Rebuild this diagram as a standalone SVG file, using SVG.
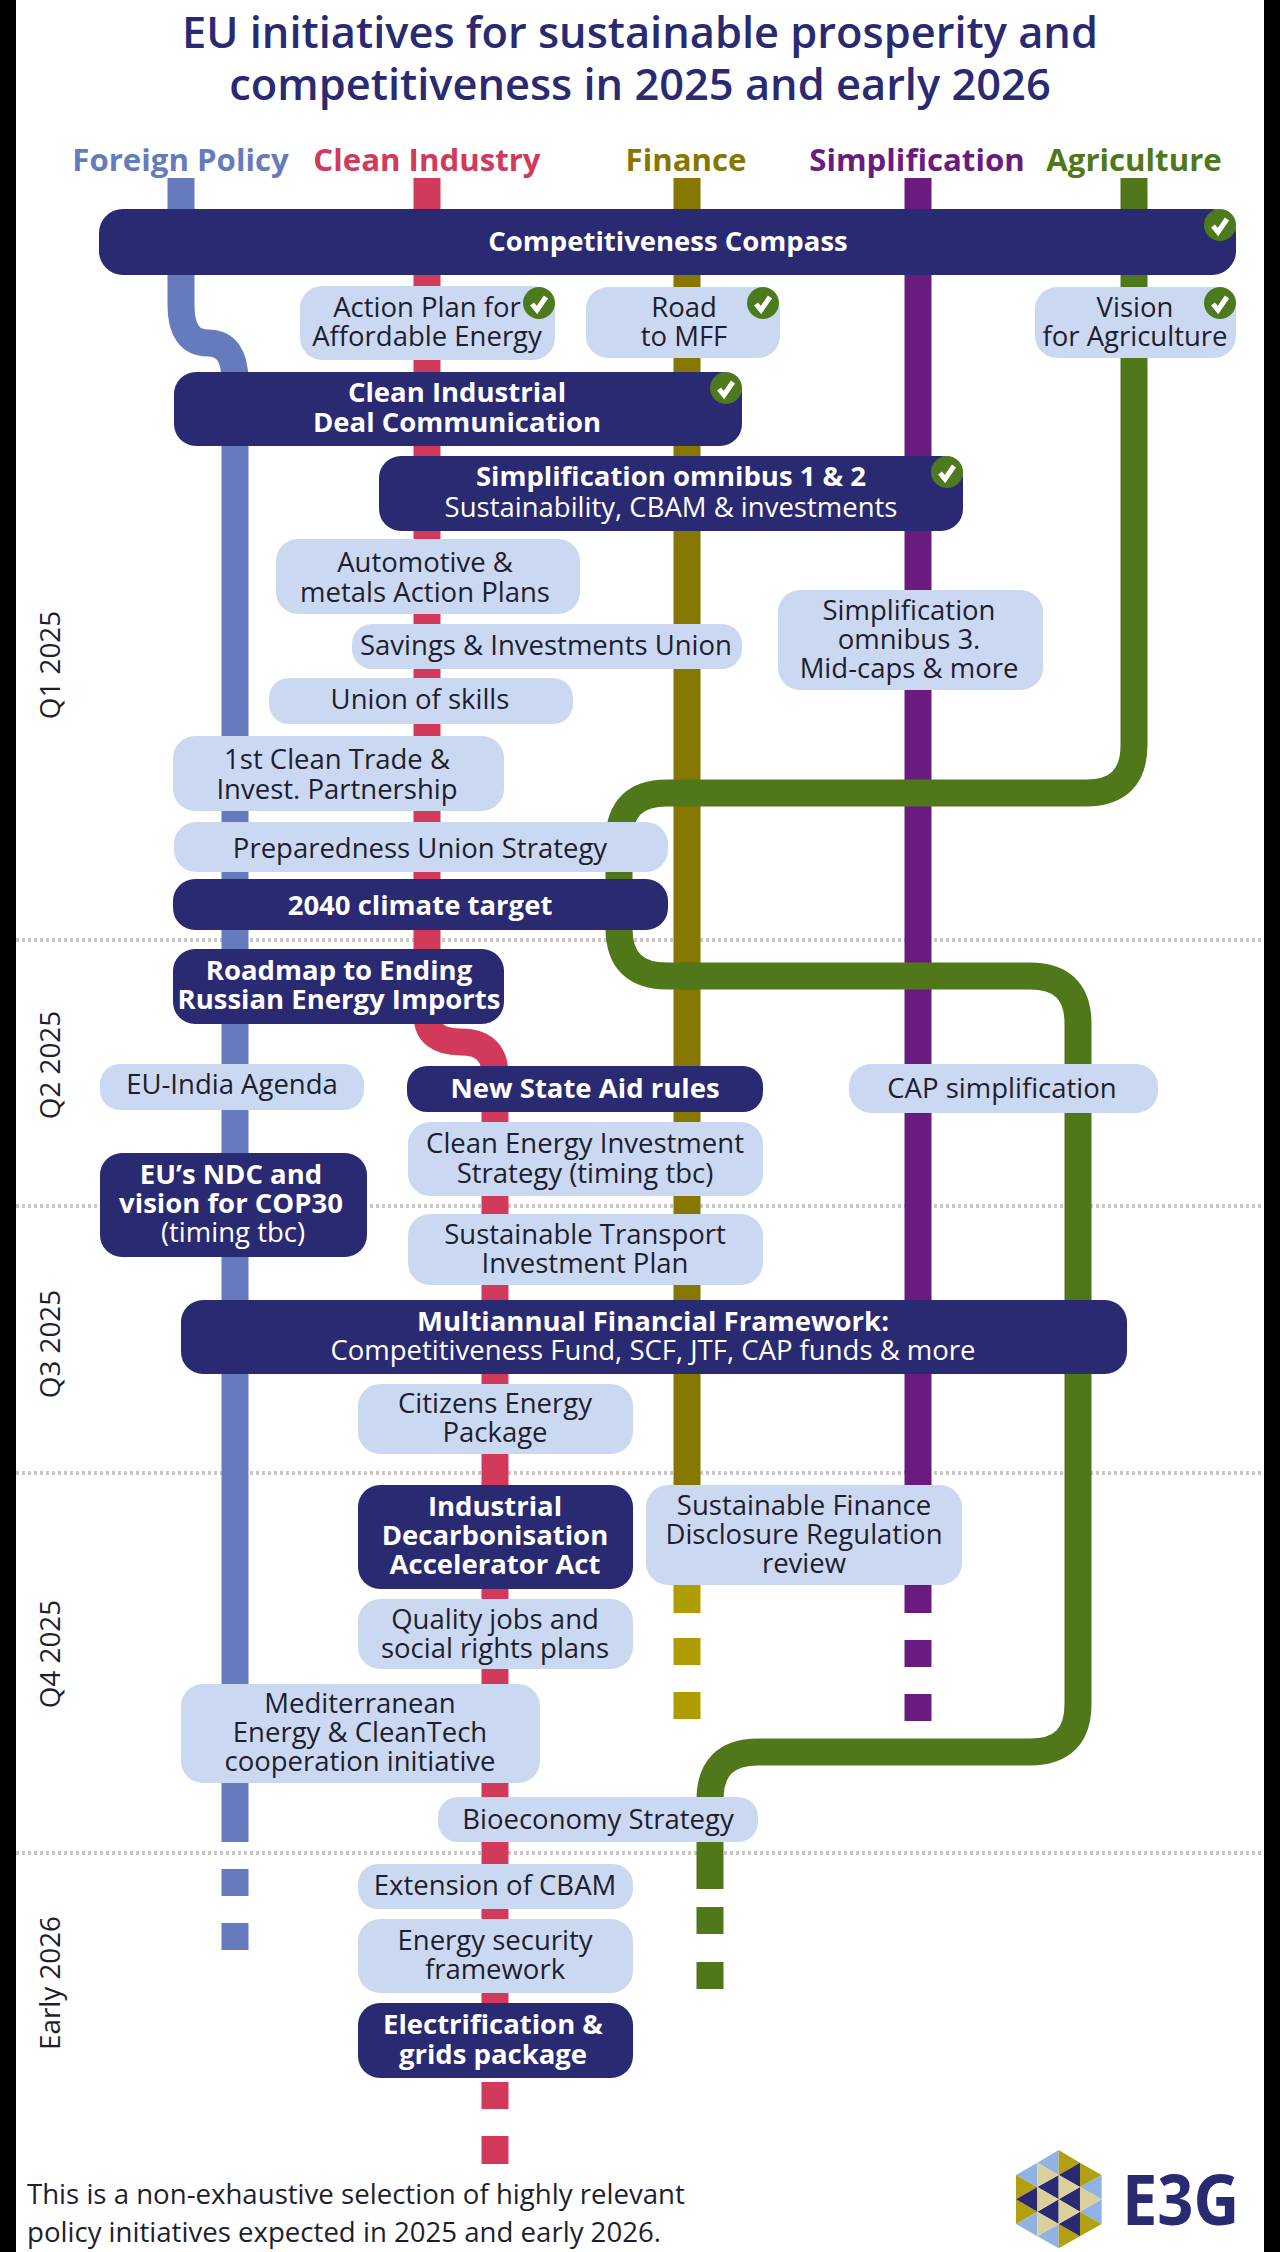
<svg xmlns="http://www.w3.org/2000/svg" width="1280" height="2252" viewBox="0 0 1280 2252">
<style>
text{font-family:"Open Sans","Noto Sans",sans-serif;text-anchor:middle}
.title{font-size:43.4px;font-weight:600;fill:#2a2a72}
.hd{font-size:31.2px;font-weight:700}
.d rect{fill:#2a2a72}.l rect{fill:#cad9f1}
.d text{fill:#fff;font-size:27.5px}
.l text{fill:#1e1e2e;font-size:27.5px}
.b{font-weight:700}
.q{font-size:27.8px;fill:#1e1e2e}
.foot{font-size:27.6px;fill:#1e1e2e;text-anchor:start}
.ln{fill:none;stroke-width:27}
.dots{stroke:#c8c8c8;stroke-width:4;stroke-dasharray:3 3}
.ok circle{fill:#4d7a1f}.ok path{fill:none;stroke:#fff;stroke-width:5}
</style>
<defs>
<g id="tick" class="ok"><circle r="16"/><path d="M-7 1l5 6 9-13"/></g>
</defs>
<rect width="1280" height="2252" fill="#fff"/>
<rect width="16" height="2252" fill="#000"/>
<rect x="1264" width="16" height="2252" fill="#000"/>
<g id="title">
<text class="title" x="640" y="48">EU initiatives for sustainable prosperity and</text>
<text class="title" x="640" y="100">competitiveness in 2025 and early 2026</text>
</g>
<g id="headers">
<text class="hd" x="180.5" y="171" fill="#667bbd">Foreign Policy</text>
<text class="hd" x="427" y="171" fill="#d13a5a">Clean Industry</text>
<text class="hd" x="686" y="171" fill="#857700">Finance</text>
<text class="hd" x="917" y="171" fill="#6a1b80">Simplification</text>
<text class="hd" x="1134" y="171" fill="#50771a">Agriculture</text>
</g>
<g id="quarters">
<text class="q" transform="translate(60 665) rotate(-90)">Q1 2025</text>
<text class="q" transform="translate(60 1065) rotate(-90)">Q2 2025</text>
<text class="q" transform="translate(60 1344) rotate(-90)">Q3 2025</text>
<text class="q" transform="translate(60 1654) rotate(-90)">Q4 2025</text>
<text class="q" transform="translate(60 1983) rotate(-90)">Early 2026</text>
</g>
<g id="quarter-lines" class="dots">
<path d="M16 940H1264M16 1206H1264M16 1473H1264M16 1853H1264"/>
</g>
<g id="connectors">
<path class="ln" stroke="#667bbd" d="M181 178V305Q181 343 208 343Q235 343 235 381V1842"/>
<path class="ln" stroke="#667bbd" d="M235 1869V1896M235 1923V1950"/>
<path class="ln" stroke="#d13a5a" d="M427 178V1015Q427 1042 461 1042Q495 1042 495 1075V2078"/>
<path class="ln" stroke="#d13a5a" d="M495 2082V2109M495 2136V2164"/>
<path class="ln" stroke="#857700" d="M687 178V1585"/>
<path class="ln" stroke="#ae9c00" d="M687 1585V1613M687 1638V1665M687 1692V1719"/>
<path class="ln" stroke="#6a1b80" d="M918 178V1585M918 1585V1613M918 1640V1667M918 1694V1721"/>
<path class="ln" stroke="#50771a" d="M1134 178V745Q1134 793 1086 793H667Q619 793 619 841V928Q619 976 667 976H1030Q1078 976 1078 1024V1704Q1078 1752 1030 1752H758Q710 1752 710 1800V1889"/>
<path class="ln" stroke="#50771a" d="M710 1907V1934M710 1962V1989"/>
</g>
<g id="n-compass" class="d"><rect x="99" y="209" width="1137" height="66" rx="24"/><text class="b" x="668" y="251">Competitiveness Compass</text><use href="#tick" x="1220" y="225"/></g>
<g id="n-action" class="l"><rect x="300" y="286" width="255" height="74" rx="22"/><text x="427" y="317">Action Plan for</text><text x="427" y="346">Affordable Energy</text><use href="#tick" x="539" y="303"/></g>
<g id="n-road" class="l"><rect x="586" y="287" width="194" height="71" rx="22"/><text x="684" y="317">Road</text><text x="684" y="346">to MFF</text><use href="#tick" x="763" y="303"/></g>
<g id="n-vision" class="l"><rect x="1035" y="287" width="201" height="71" rx="22"/><text x="1135" y="317">Vision</text><text x="1135" y="346">for Agriculture</text><use href="#tick" x="1220" y="303"/></g>
<g id="n-cid" class="d"><rect x="174" y="372" width="568" height="74" rx="22"/><text class="b" x="457" y="402">Clean Industrial</text><text class="b" x="457" y="432">Deal Communication</text><use href="#tick" x="726" y="388"/></g>
<g id="n-omnibus12" class="d"><rect x="379" y="456" width="584" height="75" rx="22"/><text class="b" x="671" y="486">Simplification omnibus 1 &amp; 2</text><text x="671" y="517">Sustainability, CBAM &amp; investments</text><use href="#tick" x="947" y="472"/></g>
<g id="n-auto" class="l"><rect x="276" y="539" width="304" height="75" rx="22"/><text x="425" y="572">Automotive &amp;</text><text x="425" y="602">metals Action Plans</text></g>
<g id="n-savings" class="l"><rect x="352" y="624" width="390" height="45" rx="20"/><text x="546" y="655">Savings &amp; Investments Union</text></g>
<g id="n-omnibus3" class="l"><rect x="778" y="590" width="265" height="100" rx="22"/><text x="909" y="620">Simplification</text><text x="909" y="649">omnibus 3.</text><text x="909" y="678">Mid-caps &amp; more</text></g>
<g id="n-skills" class="l"><rect x="269" y="678" width="304" height="46" rx="20"/><text x="420" y="709">Union of skills</text></g>
<g id="n-trade" class="l"><rect x="173" y="736" width="331" height="75" rx="22"/><text x="337" y="769">1st Clean Trade &amp;</text><text x="337" y="799">Invest. Partnership</text></g>
<g id="n-prepared" class="l"><rect x="174" y="822" width="494" height="50" rx="22"/><text x="420" y="858">Preparedness Union Strategy</text></g>
<g id="n-2040" class="d"><rect x="173" y="879" width="495" height="51" rx="22"/><text class="b" x="420" y="915">2040 climate target</text></g>
<g id="n-roadmap" class="d"><rect x="173" y="949" width="331" height="75" rx="22"/><text class="b" x="339" y="980">Roadmap to Ending</text><text class="b" x="339" y="1009">Russian Energy Imports</text></g>
<g id="n-india" class="l"><rect x="100" y="1064" width="264" height="46" rx="20"/><text x="232" y="1094">EU-India Agenda</text></g>
<g id="n-aid" class="d"><rect x="407" y="1066" width="356" height="46" rx="20"/><text class="b" x="585" y="1098">New State Aid rules</text></g>
<g id="n-cap" class="l"><rect x="849" y="1064" width="309" height="49" rx="22"/><text x="1002" y="1098">CAP simplification</text></g>
<g id="n-ceis" class="l"><rect x="408" y="1122" width="355" height="74" rx="22"/><text x="585" y="1153">Clean Energy Investment</text><text x="585" y="1183">Strategy (timing tbc)</text></g>
<g id="n-ndc" class="d"><rect x="100" y="1153" width="267" height="104" rx="22"/><text class="b" x="231" y="1184">EU’s NDC and</text><text class="b" x="231" y="1213">vision for COP30</text><text x="233" y="1242">(timing tbc)</text></g>
<g id="n-transport" class="l"><rect x="408" y="1214" width="355" height="71" rx="22"/><text x="585" y="1244">Sustainable Transport</text><text x="585" y="1273">Investment Plan</text></g>
<g id="n-mff" class="d"><rect x="181" y="1300" width="946" height="74" rx="22"/><text class="b" x="653" y="1331">Multiannual Financial Framework:</text><text x="653" y="1360">Competitiveness Fund, SCF, JTF, CAP funds &amp; more</text></g>
<g id="n-citizens" class="l"><rect x="358" y="1384" width="275" height="70" rx="22"/><text x="495" y="1413">Citizens Energy</text><text x="495" y="1442">Package</text></g>
<g id="n-idaa" class="d"><rect x="358" y="1485" width="275" height="104" rx="22"/><text class="b" x="495" y="1516">Industrial</text><text class="b" x="495" y="1545">Decarbonisation</text><text class="b" x="495" y="1574">Accelerator Act</text></g>
<g id="n-sfdr" class="l"><rect x="646" y="1485" width="316" height="100" rx="22"/><text x="804" y="1515">Sustainable Finance</text><text x="804" y="1544">Disclosure Regulation</text><text x="804" y="1573">review</text></g>
<g id="n-jobs" class="l"><rect x="358" y="1599" width="275" height="70" rx="22"/><text x="495" y="1629">Quality jobs and</text><text x="495" y="1658">social rights plans</text></g>
<g id="n-med" class="l"><rect x="181" y="1684" width="359" height="99" rx="22"/><text x="360" y="1713">Mediterranean</text><text x="360" y="1742">Energy &amp; CleanTech</text><text x="360" y="1771">cooperation initiative</text></g>
<g id="n-bio" class="l"><rect x="438" y="1797" width="320" height="45" rx="20"/><text x="598" y="1829">Bioeconomy Strategy</text></g>
<g id="n-cbam" class="l"><rect x="358" y="1864" width="275" height="45" rx="20"/><text x="495" y="1895">Extension of CBAM</text></g>
<g id="n-security" class="l"><rect x="358" y="1919" width="275" height="74" rx="22"/><text x="495" y="1950">Energy security</text><text x="495" y="1979">framework</text></g>
<g id="n-grids" class="d"><rect x="358" y="2003" width="275" height="75" rx="22"/><text class="b" x="493" y="2034">Electrification &amp;</text><text class="b" x="493" y="2064">grids package</text></g>
<g id="footnote">
<text class="foot" x="27" y="2204">This is a non-exhaustive selection of highly relevant</text>
<text class="foot" x="27" y="2242">policy initiatives expected in 2025 and early 2026.</text>
</g>
<g id="logo" transform="translate(960 2120) scale(.3333)">
<g fill="#8fb4e3"><path d="M232 128L168 165 232 201zM232 275L168 312 232 349zM232 128L296 90 296 165zM296 312L232 349 296 385zM425 165L360 201 425 238zM425 238L360 275 425 312z"/></g>
<g fill="#b3a010"><path d="M168 165L232 201 168 238zM168 238L232 275 168 312zM296 90L360 128 296 165zM296 312L360 349 296 385zM360 128L425 165 360 201zM360 275L425 312 360 349z"/></g>
<g fill="#2a2a72"><path d="M232 201L168 238 232 275zM296 165L232 201 296 238zM296 238L232 275 296 312zM360 128L296 165 360 201zM360 201L296 238 360 275zM360 275L296 312 360 349z"/></g>
<g fill="#dcd09a"><path d="M232 128L296 165 232 201zM232 201L296 238 232 275zM232 275L296 312 232 349zM296 165L360 201 296 238zM296 238L360 275 296 312zM360 201L425 238 360 275z"/></g>
<text x="662" y="314" font-size="208" font-weight="700" fill="#2a2a72" textLength="352" lengthAdjust="spacingAndGlyphs">E3G</text>
</g>
</svg>
